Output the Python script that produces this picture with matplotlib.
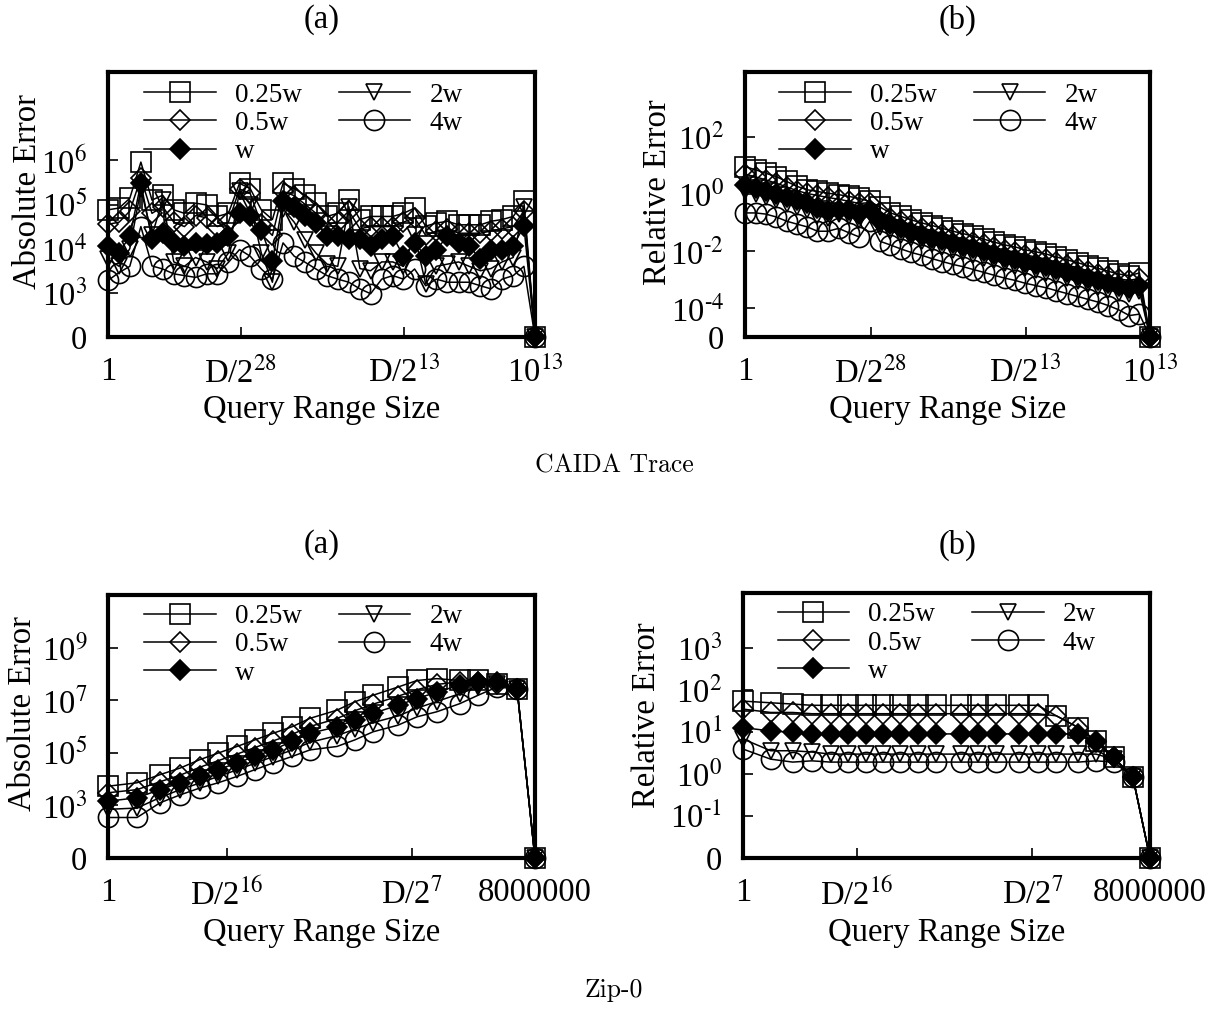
import matplotlib
matplotlib.use("Agg")
import matplotlib.pyplot as plt

plt.rcParams['font.family'] = ['Liberation Serif', 'DejaVu Serif']
plt.rcParams['mathtext.fontset'] = 'stix'

W, H = 1228, 1010
series_labels = ['0.25w', '0.5w', 'w', '2w', '4w']
markers = ['s', 'D', 'D', 'v', 'o']
marker_sizes = [15, 10.5, 10.5, 12, 14.5]
marker_faces = ['none', 'none', 'black', 'none', 'none']

# ---------------- CAIDA (log10 of error; the last point of each series is 0) ----------------
caida_x = [0, .026, .051, .077, .103, .128, .154, .179, .205, .231, .256, .282, .308, .333, .359, .385,
           .410, .436, .462, .487, .513, .538, .564, .590, .615, .641, .667, .692, .718, .744, .769, .795,
           .821, .846, .872, .897, .923, .949, .974, 1.0]
caida_abs_025w = [4.88,4.92,5.14,5.96,5.10,5.21,4.88,4.80,5.03,4.99,4.73,4.80,5.48,5.36,4.88,4.66,
                  5.48,5.36,5.21,5.03,4.73,4.80,5.10,4.66,4.73,4.73,4.73,4.80,4.92,4.51,4.58,4.62,
                  4.54,4.54,4.54,4.62,4.66,4.73,5.07]
caida_abs_05w = [4.55,4.60,4.85,5.60,4.80,4.95,4.60,4.50,4.75,4.70,4.50,4.60,5.35,5.25,4.55,4.30,
                 5.30,5.20,5.00,4.80,4.55,4.60,4.85,4.45,4.50,4.50,4.50,4.60,4.70,4.30,4.40,4.45,
                 4.35,4.35,4.35,4.40,4.45,4.50,4.85]
caida_abs_w = [4.06,3.91,4.28,5.48,4.21,4.36,4.13,4.06,4.13,4.10,4.13,4.28,4.80,4.73,4.43,3.72,
               5.07,4.95,4.73,4.58,4.28,4.28,4.21,4.21,4.06,4.21,4.28,3.83,4.13,3.83,3.98,4.28,
               4.13,4.06,3.76,3.98,3.98,4.06,4.51]
caida_abs_2w = [3.76,3.60,4.00,5.35,4.30,5.10,3.70,3.60,3.80,3.70,3.55,3.90,5.30,5.00,3.90,3.24,
                4.90,4.60,4.20,3.90,3.65,3.60,4.95,3.55,3.50,3.70,3.70,3.60,4.30,3.20,3.60,3.65,
                3.70,3.60,3.50,3.55,3.70,3.80,4.95]
caida_abs_4w = [3.28,3.46,3.60,4.50,3.61,3.54,3.43,3.39,3.35,3.43,3.43,3.69,3.98,3.83,3.54,3.31,
                4.13,3.83,3.69,3.54,3.39,3.31,3.24,3.09,2.98,3.31,3.39,3.31,3.54,3.16,3.31,3.24,
                3.24,3.24,3.16,3.09,3.31,3.39,3.60]
caida_rel_025w = [0.96,0.85,0.73,0.61,0.44,0.27,0.15,0.09,0.03,-0.02,-0.08,-0.15,-0.26,-0.45,-0.66,-0.78,
                  -0.90,-1.01,-1.10,-1.20,-1.30,-1.38,-1.48,-1.58,-1.68,-1.78,-1.85,-1.95,-2.02,-2.10,-2.20,-2.30,
                  -2.40,-2.50,-2.60,-2.70,-2.80,-2.85,-2.76]
caida_rel_05w = [0.70,0.60,0.50,0.38,0.25,0.12,0.02,-0.05,-0.12,-0.18,-0.25,-0.33,-0.30,-0.62,-0.82,-0.95,
                 -1.07,-1.18,-1.28,-1.38,-1.48,-1.56,-1.66,-1.76,-1.86,-1.96,-2.03,-2.13,-2.20,-2.28,-2.38,-2.48,
                 -2.58,-2.68,-2.78,-2.88,-2.97,-3.02,-2.95]
caida_rel_w = [0.30,0.20,0.10,0.00,-0.10,-0.20,-0.30,-0.50,-0.60,-0.55,-0.55,-0.70,-0.55,-0.95,-1.05,-1.20,
               -1.32,-1.42,-1.52,-1.62,-1.72,-1.80,-1.90,-2.00,-2.10,-2.20,-2.27,-2.37,-2.44,-2.52,-2.62,-2.72,
               -2.82,-2.92,-3.02,-3.12,-3.22,-3.28,-3.20]
caida_rel_2w = [0.10,0.00,-0.10,-0.20,-0.35,-0.45,-0.55,-0.75,-0.85,-0.70,-0.75,-0.90,-0.65,-1.15,-1.28,-1.42,
                -1.54,-1.64,-1.74,-1.84,-1.94,-2.02,-2.12,-2.22,-2.32,-2.42,-2.50,-2.60,-2.67,-2.75,-2.85,-2.95,
                -3.05,-3.15,-3.25,-3.35,-3.45,-3.50,-3.40]
caida_rel_4w = [-0.66,-0.66,-0.70,-0.80,-0.95,-1.05,-1.15,-1.30,-1.30,-1.20,-1.35,-1.50,-0.95,-1.65,-1.78,-1.92,
                -2.04,-2.14,-2.26,-2.36,-2.46,-2.54,-2.64,-2.74,-2.84,-2.94,-3.02,-3.12,-3.20,-3.28,-3.38,-3.48,
                -3.58,-3.68,-3.78,-3.90,-4.05,-4.25,-4.20]

# ---------------- Zip-0 ----------------
zip_x = [0, .068, .122, .169, .215, .258, .302, .344, .386, .431, .473, .536, .578, .621, .679, .724, .770,
         .824, .867, .911, .958, 1.0]
zip_abs_025w = [3.73,3.86,4.17,4.42,4.74,4.99,5.24,5.49,5.74,5.99,6.31,6.62,6.94,7.19,7.50,7.75,7.82,7.75,7.75,7.62,7.43]
zip_abs_05w = [3.48,3.60,3.90,4.15,4.45,4.70,4.95,5.20,5.45,5.70,6.00,6.30,6.60,6.85,7.15,7.40,7.60,7.70,7.70,7.60,7.43]
zip_abs_w = [3.16,3.29,3.60,3.86,4.11,4.36,4.61,4.86,5.11,5.43,5.74,5.99,6.25,6.50,6.81,7.06,7.31,7.57,7.69,7.69,7.44]
zip_abs_2w = [2.85,2.90,3.30,3.60,3.85,4.10,4.35,4.60,4.85,5.10,5.40,5.65,5.90,6.15,6.40,6.70,6.95,7.25,7.50,7.60,7.43]
zip_abs_4w = [2.54,2.54,3.10,3.40,3.66,3.86,4.10,4.36,4.61,4.86,5.11,5.24,5.49,5.80,6.05,6.37,6.56,6.87,7.19,7.50,7.43]
zip_rel_025w = [1.73,1.69,1.66,1.63,1.63,1.63,1.63,1.63,1.63,1.63,1.63,1.63,1.63,1.63,1.63,1.63,1.38,1.10,0.79,0.39,-0.08]
zip_rel_05w = [1.54,1.46,1.46,1.43,1.43,1.43,1.43,1.43,1.43,1.43,1.43,1.43,1.43,1.43,1.43,1.43,1.38,1.10,0.79,0.39,-0.08]
zip_rel_w = [1.10,1.02,0.99,0.95,0.95,0.95,0.95,0.95,0.95,0.95,0.95,0.95,0.95,0.95,0.95,0.95,0.95,0.95,0.75,0.39,-0.08]
zip_rel_2w = [0.83,0.55,0.55,0.52,0.47,0.47,0.47,0.47,0.47,0.47,0.47,0.47,0.47,0.47,0.47,0.47,0.47,0.47,0.47,0.35,-0.08]
zip_rel_4w = [0.59,0.35,0.28,0.31,0.28,0.28,0.28,0.28,0.28,0.28,0.28,0.28,0.28,0.28,0.28,0.28,0.28,0.28,0.31,0.28,-0.08]

caida_xticks = [0, 0.311, 0.693, 1.0]
caida_xticklabels = ['1', r'D/2$^{28}$', r'D/2$^{13}$', r'10$^{13}$']
zip_xticks = [0, 0.279, 0.711, 1.0]
zip_xticklabels = ['1', r'D/2$^{16}$', r'D/2$^{7}$', '8000000']

caida_abs_yticks = [2, 3, 4, 5, 6]
caida_abs_yticklabels = ['0', r'10$^{3}$', r'10$^{4}$', r'10$^{5}$', r'10$^{6}$']
caida_rel_yticks = [-5, -4, -2, 0, 2]
caida_rel_yticklabels = ['0', r'10$^{\text{-}4}$', r'10$^{\text{-}2}$', r'10$^{0}$', r'10$^{2}$']
zip_abs_yticks = [1, 3, 5, 7, 9]
zip_abs_yticklabels = ['0', r'10$^{3}$', r'10$^{5}$', r'10$^{7}$', r'10$^{9}$']
zip_rel_yticks = [-2, -1, 0, 1, 2, 3]
zip_rel_yticklabels = ['0', r'10$^{\text{-}1}$', r'10$^{0}$', r'10$^{1}$', r'10$^{2}$', r'10$^{3}$']

FS = 23.5
LFS = 19.5

fig = plt.figure(figsize=(W / 100, H / 100), dpi=100)


def px_axes(l, r, t, b):
    return fig.add_axes([l / W, 1 - b / H, (r - l) / W, (b - t) / H])


def panel(box, x, data_logs, ylo, yhi, yticks, yticklabels, xticks, xticklabels, ylabel,
          ylab_x, ylab_y, leg_y):
    ax = px_axes(*box)
    ax.set_yscale('log')
    floor = 10.0 ** ylo
    for lab, mk, ms, fc, vals in zip(series_labels, markers, marker_sizes, marker_faces, data_logs):
        y = [10.0 ** v for v in vals] + [0.0]
        y = [max(v, floor) for v in y]
        ax.plot(x[:len(y)], y, color='black', lw=1.1, marker=mk, ms=ms, mfc=fc, mec='black',
                mew=1.2, label=lab, clip_on=False, zorder=3)
    ax.set_xlim(0, 1)
    ax.set_ylim(floor, 10.0 ** yhi)
    ax.set_yticks([10.0 ** t for t in yticks])
    ax.set_yticklabels(yticklabels)
    ax.yaxis.set_minor_locator(matplotlib.ticker.NullLocator())
    ax.set_xticks(xticks)
    ax.set_xticklabels(xticklabels)
    ax.tick_params(axis='both', direction='in', length=7, width=1.2, labelsize=FS,
                   top=False, right=False)
    ax.tick_params(axis='x', pad=14)
    ax.tick_params(axis='y', pad=15)
    for s in ax.spines.values():
        s.set_linewidth(3)
    ax.set_ylabel(ylabel, fontsize=FS)
    ax.yaxis.set_label_coords(ylab_x, ylab_y)
    ax.set_xlabel('Query Range Size', fontsize=FS, labelpad=4)
    ax.legend(ncol=2, loc='upper left', bbox_to_anchor=(0.085, leg_y), frameon=False,
              fontsize=LFS, handlelength=2.65, handletextpad=0.7, columnspacing=1.35,
              labelspacing=0.12, borderpad=0, borderaxespad=0)
    return ax


panel((108, 535, 72, 337), caida_x,
      [caida_abs_025w, caida_abs_05w, caida_abs_w, caida_abs_2w, caida_abs_4w],
      2, 8, caida_abs_yticks, caida_abs_yticklabels, caida_xticks, caida_xticklabels,
      'Absolute Error', -0.152, 0.547, 0.96)
panel((745, 1150, 72, 337), caida_x,
      [caida_rel_025w, caida_rel_05w, caida_rel_w, caida_rel_2w, caida_rel_4w],
      -5, 4.27, caida_rel_yticks, caida_rel_yticklabels, caida_xticks, caida_xticklabels,
      'Relative Error', -0.178, 0.545, 0.96)
panel((108, 535, 595, 858), zip_x,
      [zip_abs_025w, zip_abs_05w, zip_abs_w, zip_abs_2w, zip_abs_4w],
      1, 11, zip_abs_yticks, zip_abs_yticklabels, zip_xticks, zip_xticklabels,
      'Absolute Error', -0.164, 0.55, 0.965)
panel((743, 1150, 593, 858), zip_x,
      [zip_rel_025w, zip_rel_05w, zip_rel_w, zip_rel_2w, zip_rel_4w],
      -2, 4.3, zip_rel_yticks, zip_rel_yticklabels, zip_xticks, zip_xticklabels,
      'Relative Error', -0.2, 0.54, 0.965)

for (tx, ty, s) in [(322, 20, '(a)'), (958, 20, '(b)'), (322, 545, '(a)'), (958, 545, '(b)')]:
    fig.text(tx / W, 1 - ty / H, s, ha='center', va='center', fontsize=FS)
fig.text(614 / W, 1 - 466 / H, 'CAIDA Trace', ha='center', va='center', fontsize=18.5, family='cmr10')
fig.text(614 / W, 1 - 990 / H, 'Zip-0', ha='center', va='center', fontsize=18.5, family='cmr10')

fig.savefig('out.png', dpi=100)
